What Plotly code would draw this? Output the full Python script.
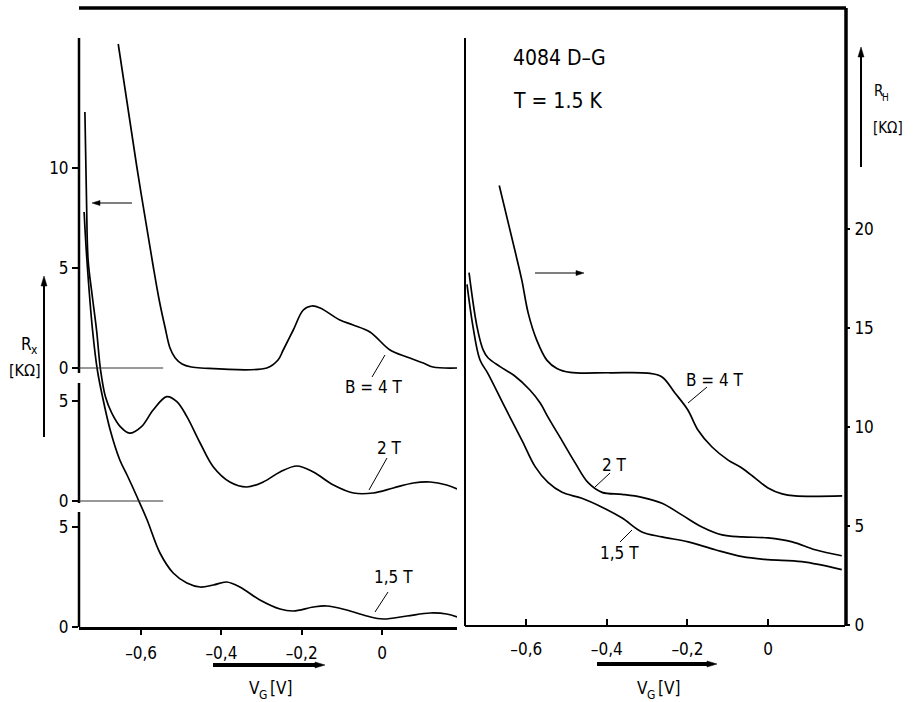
import math
import plotly.graph_objects as go

# ---------------- data ----------------
# Left panel: R_x [kOhm] vs V_G [V]
rx_4T_v = [-0.657, -0.611, -0.570, -0.555, -0.540, -0.528, -0.515, -0.498, -0.475, -0.450,
           -0.287, -0.259, -0.246, -0.221, -0.196, -0.175, -0.154, -0.105, -0.072, -0.030, 0.020, 0.062,
           0.103, 0.127, 0.187]
rx_4T_r = [16.2, 10.1, 5.1, 3.4, 2.0, 1.0, 0.5, 0.2, 0.05, 0.0,
           0.0, 0.4, 0.9, 1.9, 2.9, 3.1, 3.0, 2.4, 2.15, 1.8, 0.9, 0.55,
           0.25, 0.05, 0.0]

rx_2T_v = [-0.740, -0.736, -0.732, -0.722, -0.711, -0.701, -0.689, -0.673, -0.652, -0.629, -0.599, -0.570,
           -0.536, -0.511, -0.486, -0.453, -0.420, -0.379, -0.337, -0.296, -0.254, -0.212, -0.171, -0.121,
           -0.071, -0.022, 0.028, 0.078, 0.120, 0.161, 0.187]
rx_2T_r = [19.45, 15.05, 12.05, 10.3, 8.55, 6.55, 5.22, 4.39, 3.72, 3.39, 3.72, 4.55,
           5.22, 4.97, 4.22, 2.9, 1.7, 0.95, 0.7, 0.95, 1.45, 1.75, 1.45, 0.8,
           0.4, 0.4, 0.65, 0.9, 0.95, 0.8, 0.6]

rx_15T_v = [-0.742, -0.735, -0.721, -0.709, -0.696, -0.677, -0.653, -0.635, -0.610, -0.585, -0.553, -0.520,
            -0.486, -0.453, -0.420, -0.387, -0.354, -0.304, -0.254, -0.221, -0.171, -0.138, -0.088, -0.038,
            0.003, 0.062, 0.120, 0.161, 0.187]
rx_15T_r = [20.75, 18.35, 14.85, 12.85, 11.5, 9.85, 8.35, 7.6, 6.5, 5.35, 3.7, 2.7,
            2.2, 2.0, 2.1, 2.25, 2.0, 1.35, 0.9, 0.8, 1.0, 1.05, 0.85, 0.55,
            0.4, 0.55, 0.7, 0.65, 0.5]

# vertical offsets of the stacked R_x curves (each has its own zero)
rx_offsets = {"4T": 12.95, "2T": 6.3, "1.5T": 0.0}

# Right panel: R_H [kOhm] vs V_G [V]
rh_4T_v = [-0.667, -0.628, -0.611, -0.595, -0.574, -0.549, -0.524, -0.491, -0.392, -0.298, -0.263, -0.231,
           -0.199, -0.174, -0.139, -0.099, -0.065, -0.032, 0.0, 0.035, 0.067, 0.184]
rh_4T_r = [22.2, 18.9, 17.42, 15.74, 14.39, 13.38, 12.96, 12.76, 12.74, 12.72, 12.53, 11.72,
           10.86, 9.85, 8.99, 8.33, 7.93, 7.42, 6.92, 6.62, 6.52, 6.52]

rh_2T_v = [-0.742, -0.722, -0.707, -0.695, -0.665, -0.630, -0.591, -0.565, -0.546, -0.511, -0.479, -0.447,
           -0.412, -0.362, -0.313, -0.263, -0.213, -0.164, -0.114, -0.064, 0.0, 0.06, 0.117, 0.183]
rh_2T_r = [17.8, 15.05, 13.9, 13.5, 13.05, 12.6, 11.87, 11.2, 10.5, 9.3, 8.2, 7.2,
           6.7, 6.6, 6.45, 6.15, 5.55, 4.95, 4.55, 4.45, 4.4, 4.2, 3.8, 3.5]

rh_15T_v = [-0.747, -0.732, -0.715, -0.695, -0.653, -0.610, -0.578, -0.546, -0.511, -0.462, -0.412, -0.362,
            -0.313, -0.263, -0.198, -0.131, -0.064, 0.0, 0.084, 0.183]
rh_15T_r = [17.2, 15.05, 13.4, 12.7, 11.0, 9.3, 8.0, 7.2, 6.7, 6.4, 5.95, 5.4,
            4.7, 4.45, 4.2, 3.8, 3.45, 3.3, 3.2, 2.8]

x_tickvals = [-0.6, -0.4, -0.2, 0]
x_ticktext = ["\u20130,6", "\u20130,4", "\u20130,2", "0"]
rx_tick_labels = ["0", "5", "0", "5", "0", "5", "10"]
rh_tickvals = [0, 5, 10, 15, 20]

# ---------------- figure ----------------
W, H = 914, 702
FONT = "DejaVu Sans Condensed, Liberation Sans Narrow, DejaVu Sans, sans-serif"


def X(px):
    return px / W


def Y(py):
    return 1 - py / H


line_style = dict(color="black", width=1.7, shape="spline", smoothing=1.0)

fig = go.Figure()
for v, r, key in [(rx_4T_v, rx_4T_r, "4T"), (rx_2T_v, rx_2T_r, "2T"), (rx_15T_v, rx_15T_r, "1.5T")]:
    off = rx_offsets[key]
    fig.add_trace(go.Scatter(x=v, y=[val + off for val in r], mode="lines", line=line_style,
                             xaxis="x", yaxis="y", hoverinfo="skip"))
for v, r in [(rh_4T_v, rh_4T_r), (rh_2T_v, rh_2T_r), (rh_15T_v, rh_15T_r)]:
    fig.add_trace(go.Scatter(x=v, y=r, mode="lines", line=line_style,
                             xaxis="x2", yaxis="y2", hoverinfo="skip"))

rx_tickvals = [0, 5,
               rx_offsets["2T"], rx_offsets["2T"] + 5,
               rx_offsets["4T"], rx_offsets["4T"] + 5, rx_offsets["4T"] + 10]

tickfont = dict(family=FONT, size=17, color="black")

fig.update_layout(
    width=W, height=H,
    margin=dict(l=0, r=0, t=0, b=0, autoexpand=False),
    paper_bgcolor="white", plot_bgcolor="white",
    showlegend=False,
    font=dict(family=FONT, color="black"),
    xaxis=dict(domain=[X(79), X(457)], range=[-0.7547, 0.1868], anchor="y",
               tickvals=x_tickvals, ticktext=x_ticktext, ticks="outside", ticklen=5, tickwidth=2,
               tickcolor="black", showline=True, linewidth=3, linecolor="black",
               showgrid=False, zeroline=False, tickfont=tickfont, ticklabelstandoff=4),
    yaxis=dict(domain=[Y(627), Y(38)], range=[0, 29.45], anchor="x",
               tickvals=rx_tickvals, ticktext=rx_tick_labels, ticks="outside", ticklen=6, tickwidth=2,
               tickcolor="black", showline=False, showgrid=False, zeroline=False, tickfont=tickfont),
    xaxis2=dict(domain=[X(465), X(845)], range=[-0.752, 0.191], anchor="y2",
                tickvals=x_tickvals, ticktext=x_ticktext, ticks="inside", ticklen=6, tickwidth=2,
                tickcolor="black", showline=True, linewidth=2, linecolor="black",
                showgrid=False, zeroline=False, tickfont=tickfont, ticklabelstandoff=8),
    yaxis2=dict(domain=[Y(625), Y(38)], range=[0, 29.65], anchor="x2", side="right",
                tickvals=rh_tickvals, ticks="outside", ticklen=4, tickwidth=2,
                tickcolor="black", showline=False, showgrid=False, zeroline=False, tickfont=tickfont,
                ticklabelstandoff=1),
)

shapes = []


def pline(x0, y0, x1, y1, w):
    shapes.append(dict(type="line", xref="paper", yref="paper", x0=X(x0), y0=Y(y0), x1=X(x1), y1=Y(y1),
                       line=dict(color="black", width=w)))


def arrow(hx, hy, tx, ty, w, hl, hw):
    # shaft from tail to base of the head, plus a filled triangular head
    dx, dy = hx - tx, hy - ty
    L = math.hypot(dx, dy)
    ux, uy = dx / L, dy / L
    bx, by = hx - ux * hl, hy - uy * hl
    pline(tx, ty, bx + ux * 1, by + uy * 1, w)
    px_, py_ = -uy, ux
    p1 = (bx + px_ * hw / 2, by + py_ * hw / 2)
    p2 = (bx - px_ * hw / 2, by - py_ * hw / 2)
    path = "M {} {} L {} {} L {} {} Z".format(X(hx), Y(hy), X(p1[0]), Y(p1[1]), X(p2[0]), Y(p2[1]))
    shapes.append(dict(type="path", xref="paper", yref="paper", path=path,
                       fillcolor="black", line=dict(color="black", width=0.5)))


# frame
pline(79, 8, 846, 8, 3.5)
pline(79, 38, 79, 373, 2.5)
pline(79, 383, 79, 503, 2.5)
pline(79, 512, 79, 627, 2.5)
pline(465, 38, 465, 626, 2)
pline(846, 8, 846, 626, 3.5)
# leader lines for curve labels
pline(372, 377, 385, 355, 1)
pline(369, 490, 387, 458, 1)
pline(375, 612, 388, 592, 1)
pline(688, 403, 707, 387, 1)
pline(595, 487, 610, 473, 1)
pline(620, 542, 632, 530, 1)

# zero reference lines of the offset R_x curves
for key in ["4T", "2T"]:
    shapes.append(dict(type="line", xref="x", yref="y", x0=-0.7547, x1=-0.545,
                       y0=rx_offsets[key], y1=rx_offsets[key], line=dict(color="#333", width=1)))

# arrows
arrow(92, 203, 132, 203, 1.2, 8, 5)
arrow(584, 273, 535, 273, 1.2, 8, 5)
arrow(44, 276, 44, 437, 2, 10, 6)
arrow(861, 47, 861, 167, 2, 10, 6)
arrow(325, 665, 213, 665, 4, 10, 6)
arrow(717, 664, 597, 664, 4, 10, 6)

fig.update_layout(shapes=shapes)

ann = []


def text(x, y, s, size=17, anchor="center"):
    ann.append(dict(xref="paper", yref="paper", x=X(x), y=Y(y), text=s, showarrow=False, borderpad=0,
                    borderwidth=0, xanchor=anchor, yanchor="middle",
                    font=dict(family=FONT, size=size, color="black")))


text(513, 58, "4084 D\u2013G", size=21, anchor="left")
text(513, 101, "T = 1.5 K", size=21, anchor="left")
# R_x label (main letter + subscript as separate texts)
text(32, 344, "R", size=17, anchor="right")
text(31, 350, "x", size=12, anchor="left")
text(25, 370, "[K\u03a9]", size=16)
# R_H label
text(883, 91, "R", size=15, anchor="right")
text(882, 97, "H", size=10, anchor="left")
text(888, 128, "[K\u03a9]", size=15)
# V_G labels
for cx in (266, 654):
    text(cx - 6, 688, "V", size=17, anchor="right")
    text(cx - 7, 695, "G", size=12, anchor="left")
    text(cx + 4, 688, "[V]", size=17, anchor="left")
text(374, 387, "B = 4 T", size=17)
text(389, 448, "2 T", size=17)
text(393, 577, "1,5 T", size=17)
text(715, 380, "B = 4 T", size=17)
text(614, 465, "2 T", size=17)
text(619, 553, "1,5 T", size=17)

fig.update_layout(annotations=ann)

fig.write_html("out.html", config={"displayModeBar": False},
               post_script="document.body.style.margin='0';document.body.style.overflow='hidden';")
